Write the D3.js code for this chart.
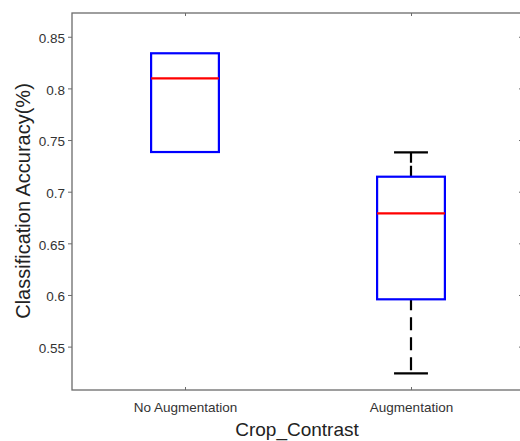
<!DOCTYPE html>
<html>
<head>
<meta charset="utf-8">
<script src="https://cdn.jsdelivr.net/npm/d3@7"></script>
<style>
  html, body { margin: 0; padding: 0; background: #fff; overflow: hidden; }
  svg { display: block; font-family: "Liberation Sans", Arial, Helvetica, sans-serif; }
</style>
</head>
<body>
<svg id="chart" width="520" height="441"></svg>
<script>
// ---- data ----
const categories = ["No Augmentation", "Augmentation"];
const lowerWhisker = [0.7384, 0.524];
const q1Values = [0.7384, 0.5958];
const medianValues = [0.8097, 0.679];
const q3Values = [0.834, 0.7145];
const upperWhisker = [0.834, 0.738];
const yTicks = [0.55, 0.6, 0.65, 0.7, 0.75, 0.8, 0.85];
const yTickLabels = ["0.55", "0.6", "0.65", "0.7", "0.75", "0.8", "0.85"];
const xLabel = "Crop_Contrast";
const yLabel = "Classification Accuracy(%)";

(function () {
// ---- layout ----
const svg = d3.select("#chart");
const mLeft = 72, mRight = 524, mTop = 13, mBottom = 390;
const boxW = 0.3, capW = 0.15;

const x = d3.scaleLinear().domain([0.5, 2.5]).range([mLeft, mRight]);
const y = d3.scaleLinear().domain([0.508, 0.873]).range([mBottom, mTop]);

const axisColor = "#6b6b6b";
const textColor = "#333333";

const data = categories.map((c, i) => ({
  name: c, pos: i + 1,
  lo: lowerWhisker[i], q1: q1Values[i], med: medianValues[i], q3: q3Values[i], hi: upperWhisker[i]
}));

// axes
const yAxis = d3.axisLeft(y).tickValues(yTicks).tickFormat((d, i) => yTickLabels[i])
  .tickSizeInner(4).tickSizeOuter(0).tickPadding(3);
const gy = svg.append("g").attr("transform", `translate(${mLeft},0)`).call(yAxis);
gy.select(".domain").remove();
gy.selectAll(".tick line").attr("stroke", axisColor);
gy.selectAll(".tick text").attr("fill", textColor).style("font-size", "13.5px")
  .attr("font-family", "Liberation Sans, Arial, sans-serif").attr("dy", "0.42em");

const yAxisR = d3.axisRight(y).tickValues(yTicks).tickFormat("").tickSizeInner(-5).tickSizeOuter(0);
const gyr = svg.append("g").attr("transform", `translate(${mRight},0)`).call(yAxisR);
gyr.select(".domain").remove();
gyr.selectAll(".tick line").attr("stroke", axisColor);

const xAxis = d3.axisBottom(x).tickValues(data.map(d => d.pos)).tickFormat((d, i) => categories[i])
  .tickSizeInner(-3).tickSizeOuter(0).tickPadding(12);
const gx = svg.append("g").attr("transform", `translate(0,${mBottom})`).call(xAxis);
gx.select(".domain").remove();
gx.selectAll(".tick line").attr("stroke", axisColor);
gx.selectAll(".tick text").attr("fill", textColor).style("font-size", "13.5px")
  .attr("font-family", "Liberation Sans, Arial, sans-serif");

const xAxisT = d3.axisTop(x).tickValues(data.map(d => d.pos)).tickFormat("").tickSizeInner(-3).tickSizeOuter(0);
const gxt = svg.append("g").attr("transform", `translate(0,${mTop})`).call(xAxisT);
gxt.select(".domain").remove();
gxt.selectAll(".tick line").attr("stroke", axisColor);

// axes frame
svg.append("rect").attr("x", mLeft).attr("y", mTop)
  .attr("width", mRight - mLeft).attr("height", mBottom - mTop)
  .attr("fill", "none").attr("stroke", axisColor).attr("stroke-width", 1.3);

// boxes
const g = svg.append("g");
const items = g.selectAll("g.item").data(data).join("g").attr("class", "item");

// whiskers (dashed) + caps, only where the whisker extends past the box
const lowItems = items.filter(d => d.lo < d.q1);
const hiItems = items.filter(d => d.hi > d.q3);
lowItems.append("line")
  .attr("x1", d => x(d.pos)).attr("x2", d => x(d.pos))
  .attr("y1", d => y(d.q1)).attr("y2", d => y(d.lo))
  .attr("stroke", "#000").attr("stroke-width", 2.2)
  .attr("stroke-dasharray", "13,7").attr("stroke-dashoffset", 2);
hiItems.append("line")
  .attr("x1", d => x(d.pos)).attr("x2", d => x(d.pos))
  .attr("y1", d => y(d.q3)).attr("y2", d => y(d.hi))
  .attr("stroke", "#000").attr("stroke-width", 2.2)
  .attr("stroke-dasharray", "11,3");
lowItems.append("line")
  .attr("x1", d => x(d.pos - capW / 2)).attr("x2", d => x(d.pos + capW / 2))
  .attr("y1", d => y(d.lo)).attr("y2", d => y(d.lo))
  .attr("stroke", "#000").attr("stroke-width", 2.2);
hiItems.append("line")
  .attr("x1", d => x(d.pos - capW / 2)).attr("x2", d => x(d.pos + capW / 2))
  .attr("y1", d => y(d.hi)).attr("y2", d => y(d.hi))
  .attr("stroke", "#000").attr("stroke-width", 2.2);
// box
items.append("rect")
  .attr("x", d => x(d.pos - boxW / 2)).attr("width", d => x(d.pos + boxW / 2) - x(d.pos - boxW / 2))
  .attr("y", d => y(d.q3)).attr("height", d => y(d.q1) - y(d.q3))
  .attr("fill", "none").attr("stroke", "#0000ff").attr("stroke-width", 2.2);
// median
items.append("line")
  .attr("x1", d => x(d.pos - boxW / 2)).attr("x2", d => x(d.pos + boxW / 2))
  .attr("y1", d => y(d.med)).attr("y2", d => y(d.med))
  .attr("stroke", "#ff0000").attr("stroke-width", 2.2);

// labels
svg.append("text").attr("x", (mLeft + mRight) / 2 - 1).attr("y", 436)
  .attr("text-anchor", "middle").attr("fill", "#222").style("font-size", "19px")
  .text(xLabel);
svg.append("text").attr("transform", `translate(29.5,201) rotate(-90)`)
  .attr("text-anchor", "middle").attr("fill", "#222").style("font-size", "20px")
  .text(yLabel);
})();
</script>
</body>
</html>
